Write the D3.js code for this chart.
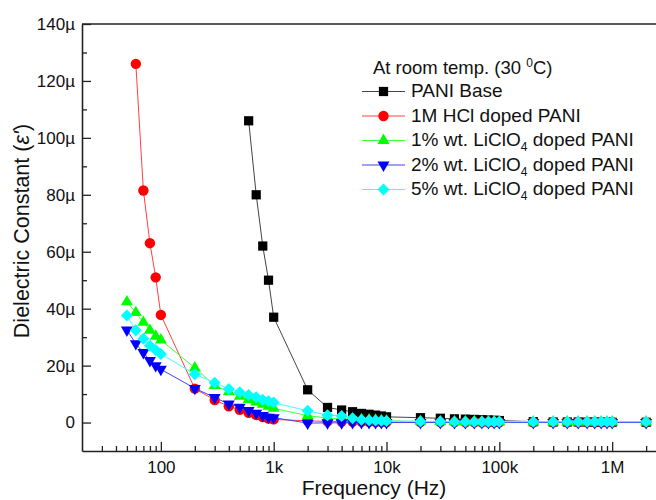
<!DOCTYPE html>
<html>
<head>
<meta charset="utf-8">
<script src="https://cdn.jsdelivr.net/npm/d3@7"></script>
<style>
  body { margin: 0; background: #fff; }
  svg { display: block; font-family: "Liberation Sans", Arial, sans-serif; }
</style>
</head>
<body>
<script>
// frequencies (Hz) shared by all series
let freqs = [50, 60, 70, 80, 90,
    100, 200, 300, 400, 500, 600, 700, 800, 900,
    1000, 2000, 3000, 4000, 5000, 6000, 7000, 8000, 9000,
    10000, 20000, 30000, 40000, 50000, 60000, 70000, 80000, 90000,
    100000, 200000, 300000, 400000, 500000, 600000, 700000, 800000, 900000,
    1000000, 2000000];

// dielectric constant values in micro units (null = not plotted)
let paniBase = [null, null, null, null, null,
    null, null, null, null, null, 106, 80, 62, 50,
    37, 11.5, 5.3, 4.4, 3.8, 3.2, 2.9, 2.6, 2.3,
    2.0, 1.7, 1.5, 1.3, 1.2, 1.1, 1.0, 0.9, 0.8,
    0.7, 0.3, 0.2, 0.2, 0.2, 0.15, 0.15, 0.1, 0.1,
    0.1, 0.1];
let hclPani = [null, 126, 81.5, 63, 51,
    37.8, 11.9, 7.9, 5.7, 4.5, 3.4, 2.6, 1.9, 1.4,
    1.1, 0.6, 0.4, 0.35, 0.3, 0.3, 0.25, 0.25, 0.2,
    0.2, 0.2, 0.15, 0.15, 0.1, 0.1, 0.1, 0.1, 0.1,
    0.1, 0.1, 0.1, 0.1, 0.1, 0.1, 0.1, 0.1, 0.1,
    0.1, 0.1];
let li1Pani = [42.4, 38.6, 35.2, 32.4, 30.3,
    29.0, 19.2, 13.0, 10.8, 9.2, 8.1, 7.2, 6.4, 5.7,
    5.0, 2.4, 1.6, 1.3, 1.1, 1.0, 0.9, 0.8, 0.7,
    0.6, 0.4, 0.35, 0.3, 0.3, 0.3, 0.25, 0.25, 0.2,
    0.2, 0.2, 0.2, 0.2, 0.2, 0.2, 0.2, 0.2, 0.2,
    0.2, 0.2];
let li2Pani = [32.5, 27.7, 24.6, 21.8, 20.0,
    18.7, 12.0, 8.8, 6.5, 5.4, 4.2, 3.3, 2.5, 1.9,
    1.7, -0.2, -0.1, -0.1, 0, 0, 0, 0, 0,
    0, 0, 0, 0, 0, 0, 0, 0, 0,
    0, 0, 0, 0, 0, 0, 0, 0, 0,
    0, 0];
let li5Pani = [37.6, 32.4, 29.4, 27.0, 25.5,
    24.1, 17.0, 14.0, 11.8, 10.6, 9.7, 8.9, 8.0, 7.5,
    7.0, 4.1, 2.6, 2.3, 1.5, 1.0, 0.8, 0.7, 0.6,
    0.5, 0.4, 0.35, 0.3, 0.3, 0.3, 0.3, 0.3, 0.3,
    0.3, 0.3, 0.3, 0.3, 0.3, 0.3, 0.3, 0.3, 0.3,
    0.3, 0.3];

let seriesNames = ["PANI Base", "1M HCl doped PANI", "1% wt. LiClO4 doped PANI",
    "2% wt. LiClO4 doped PANI", "5% wt. LiClO4 doped PANI"];
let seriesValues = [paniBase, hclPani, li1Pani, li2Pani, li5Pani];
let seriesColors = ["#000000", "#ff0000", "#00ff00", "#0000ff", "#00ffff"];
let lineColors = ["#444444", "#ff4040", "#40ff40", "#4040ff", "#40ffff"];
let seriesShapes = ["square", "circle", "triangle", "triangleDown", "diamond"];

let xMajor = [100, 1000, 10000, 100000, 1000000];
let yMajor = [0, 20, 40, 60, 80, 100, 120, 140];

let width = 656, height = 500;
let plotLeft = 82, plotRight = 666, plotTop = 24, plotBottom = 451;

let x = d3.scaleLog().domain([20, 3000000]).range([plotLeft, plotRight]);
let y = d3.scaleLinear().domain([-10, 140]).range([plotBottom, plotTop]);

let svg = d3.select("body").append("svg")
    .attr("width", width)
    .attr("height", height);

// minor tick values
let xMinor = [];
for (let dec = 10; dec <= 1000000; dec *= 10) {
    for (let m = 2; m <= 9; m++) {
        let v = dec * m;
        if (v > 20 && v <= 3000000) xMinor.push(v);
    }
}
let yMinor = d3.range(10, 140, 20);

// frame top and right
svg.append("line")
    .attr("x1", plotLeft).attr("x2", plotRight)
    .attr("y1", plotTop).attr("y2", plotTop)
    .attr("stroke", "#222").attr("stroke-width", 1.6);
svg.append("line")
    .attr("x1", plotRight).attr("x2", plotRight)
    .attr("y1", plotTop).attr("y2", plotBottom)
    .attr("stroke", "#222").attr("stroke-width", 1.6);

// x axis
svg.append("g")
    .attr("transform", `translate(0,${plotBottom})`)
    .call(d3.axisBottom(x)
        .tickValues(xMajor)
        .tickFormat(d3.format("~s"))
        .tickSize(-9)
        .tickSizeOuter(0)
        .tickPadding(10));
svg.append("g")
    .attr("transform", `translate(0,${plotBottom})`)
    .call(d3.axisBottom(x)
        .tickValues(xMinor)
        .tickFormat("")
        .tickSize(-5)
        .tickSizeOuter(0))
    .select(".domain").remove();

// y axis
svg.append("g")
    .attr("transform", `translate(${plotLeft},0)`)
    .call(d3.axisLeft(y)
        .tickValues(yMajor)
        .tickFormat(d => d === 0 ? "0" : d + "\u00b5")
        .tickSize(-9)
        .tickSizeOuter(0)
        .tickPadding(7));
svg.append("g")
    .attr("transform", `translate(${plotLeft},0)`)
    .call(d3.axisLeft(y)
        .tickValues(yMinor)
        .tickFormat("")
        .tickSize(-5)
        .tickSizeOuter(0))
    .select(".domain").remove();

svg.selectAll(".domain").attr("stroke", "#222").attr("stroke-width", 1.6);
svg.selectAll(".tick line").attr("stroke", "#222").attr("stroke-width", 1.3);
svg.selectAll(".tick text")
    .attr("font-family", "Liberation Sans, Arial, sans-serif")
    .attr("font-size", 17)
    .attr("fill", "#111");

// axis titles
svg.append("text")
    .attr("x", (plotLeft + plotRight) / 2)
    .attr("y", 495)
    .attr("text-anchor", "middle")
    .attr("font-size", 21)
    .attr("fill", "#111")
    .text("Frequency (Hz)");

let yTitle = svg.append("text")
    .attr("transform", "translate(29,231) rotate(-90)")
    .attr("text-anchor", "middle")
    .attr("font-size", 21.5)
    .attr("fill", "#111");
yTitle.append("tspan").text("Dielectric Constant (");
yTitle.append("tspan").attr("font-style", "italic").text("\u03b5'");
yTitle.append("tspan").text(")");

// marker path generator
let symbolPath = (shape) => {
    if (shape === "square") return d3.symbol(d3.symbolSquare, 85)();
    if (shape === "circle") return d3.symbol(d3.symbolCircle, 85)();
    if (shape === "triangle" || shape === "triangleDown") return d3.symbol(d3.symbolTriangle, 62)();
    return d3.symbol(d3.symbolSquare, 72)();
};
let symbolRotate = (shape) => {
    if (shape === "triangleDown") return 180;
    if (shape === "diamond") return 45;
    return 0;
};

// series lines and markers
seriesValues.forEach((vals, i) => {
    let pts = freqs.map((f, j) => ({f: f, v: vals[j]})).filter(d => d.v !== null);
    let line = d3.line()
        .x(d => x(d.f))
        .y(d => y(d.v));
    svg.append("path")
        .datum(pts)
        .attr("d", line)
        .attr("fill", "none")
        .attr("stroke", lineColors[i])
        .attr("stroke-width", 1);
    svg.append("g").selectAll("path")
        .data(pts)
        .enter()
        .append("path")
            .attr("d", symbolPath(seriesShapes[i]))
            .attr("transform", d => `translate(${x(d.f)},${y(d.v)}) rotate(${symbolRotate(seriesShapes[i])})`)
            .attr("fill", seriesColors[i]);
});

// legend
let legend = svg.append("g");
let legendX = 362, legendTextX = 411;
let title = legend.append("text")
    .attr("x", 373)
    .attr("y", 74)
    .attr("font-size", 18.5)
    .attr("fill", "#111");
title.append("tspan").text("At room temp. (30 ");
title.append("tspan").attr("font-size", 12).attr("dy", -7).text("0");
title.append("tspan").attr("dy", 7).text("C)");

seriesNames.forEach((name, i) => {
    let base = 97 + i * 24.5;
    let cy = base - 5.5;
    legend.append("line")
        .attr("x1", legendX).attr("x2", legendX + 43)
        .attr("y1", cy).attr("y2", cy)
        .attr("stroke", lineColors[i])
        .attr("stroke-width", 1);
    legend.append("path")
        .attr("d", symbolPath(seriesShapes[i]))
        .attr("transform", `translate(${legendX + 21.5},${cy}) rotate(${symbolRotate(seriesShapes[i])})`)
        .attr("fill", seriesColors[i]);
    let t = legend.append("text")
        .attr("x", legendTextX)
        .attr("y", base)
        .attr("font-size", 19)
        .attr("fill", "#111");
    let parts = name.split("LiClO4");
    if (parts.length === 2) {
        t.append("tspan").text(parts[0] + "LiClO");
        t.append("tspan").attr("font-size", 12).attr("dy", 5).text("4");
        t.append("tspan").attr("dy", -5).text(parts[1]);
    } else {
        t.text(name);
    }
});
</script>
</body>
</html>
